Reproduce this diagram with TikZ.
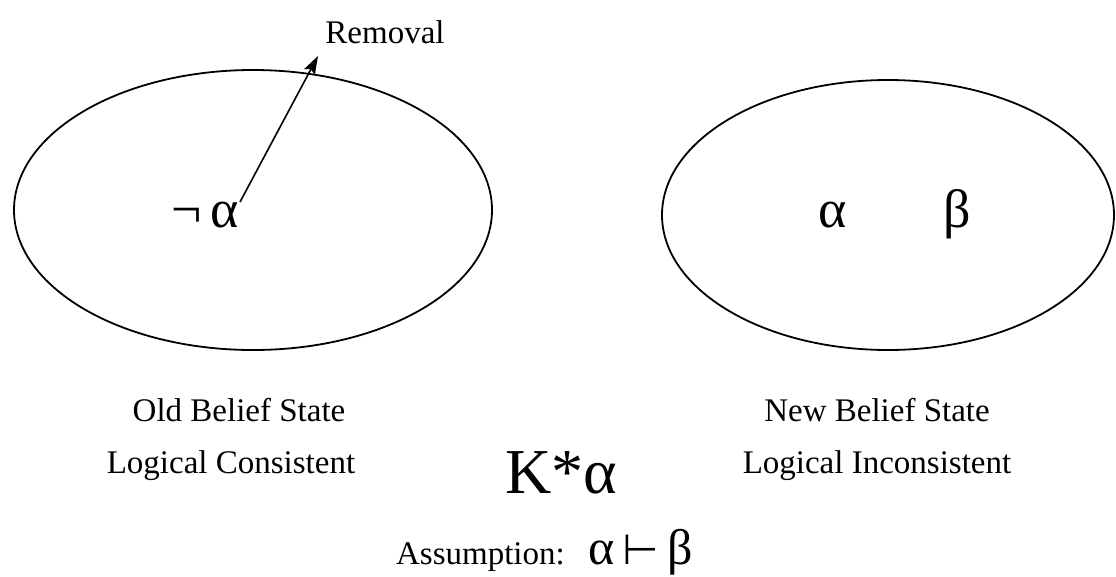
\documentclass[tikz,border=0pt]{standalone}
\usepackage{fontspec}
\setmainfont{Liberation Serif}
\newfontfamily\symfont{DejaVu Sans}
\usetikzlibrary{arrows.meta,positioning,shapes.geometric}

\begin{document}
\begin{tikzpicture}[
  x=1pt, y=-1pt,
  font=\fontsize{33}{38}\selectfont,
  state/.style={draw=black, line width=1.8pt, ellipse, inner sep=0pt},
  lbl/.style={inner sep=0pt, anchor=base},
  greek/.style={inner sep=0pt, anchor=base, font=\fontsize{54}{60}\selectfont},
  arr/.style={draw=black, line width=1.6pt, -{Stealth[length=18pt,width=12pt,inset=3pt]}}
]
\useasboundingbox (0,0) rectangle (1116,576);
\node[state, minimum width=478pt, minimum height=280pt] (oldstate) at (253,210) {};
\node[state, minimum width=452pt, minimum height=270pt] (newstate) at (888,215) {};
\node[greek] (nota) at (205,227) {¬\,α};
\node[greek] (alpha) at (833,227) {α};
\node[greek] (beta) at (957,227) {β};
\node[lbl] (removal) at (385,43) {Removal};
\coordinate (armstart) at (240,202);
\coordinate (armtip) at (318,56);
\draw[arr] (armstart) -- (armtip);
\node[lbl] (oldname) at (239,421) {Old Belief State};
\node[lbl] (oldlogic) at (231,473) {Logical Consistent};
\node[lbl] (newname) at (877,421) {New Belief State};
\node[lbl] (newlogic) at (877,473) {Logical Inconsistent};
\node[lbl, font=\fontsize{64}{70}\selectfont] (revision) at (561,493) {K*α};
\node[lbl, anchor=base east] (assume) at (565,564) {Assumption:};
\node[greek, anchor=base west, font=\fontsize{50}{56}\selectfont] (entail) at (588,564) {α\,{\symfont\fontsize{42}{48}\selectfont ⊢}\,β};
\end{tikzpicture}
\end{document}
